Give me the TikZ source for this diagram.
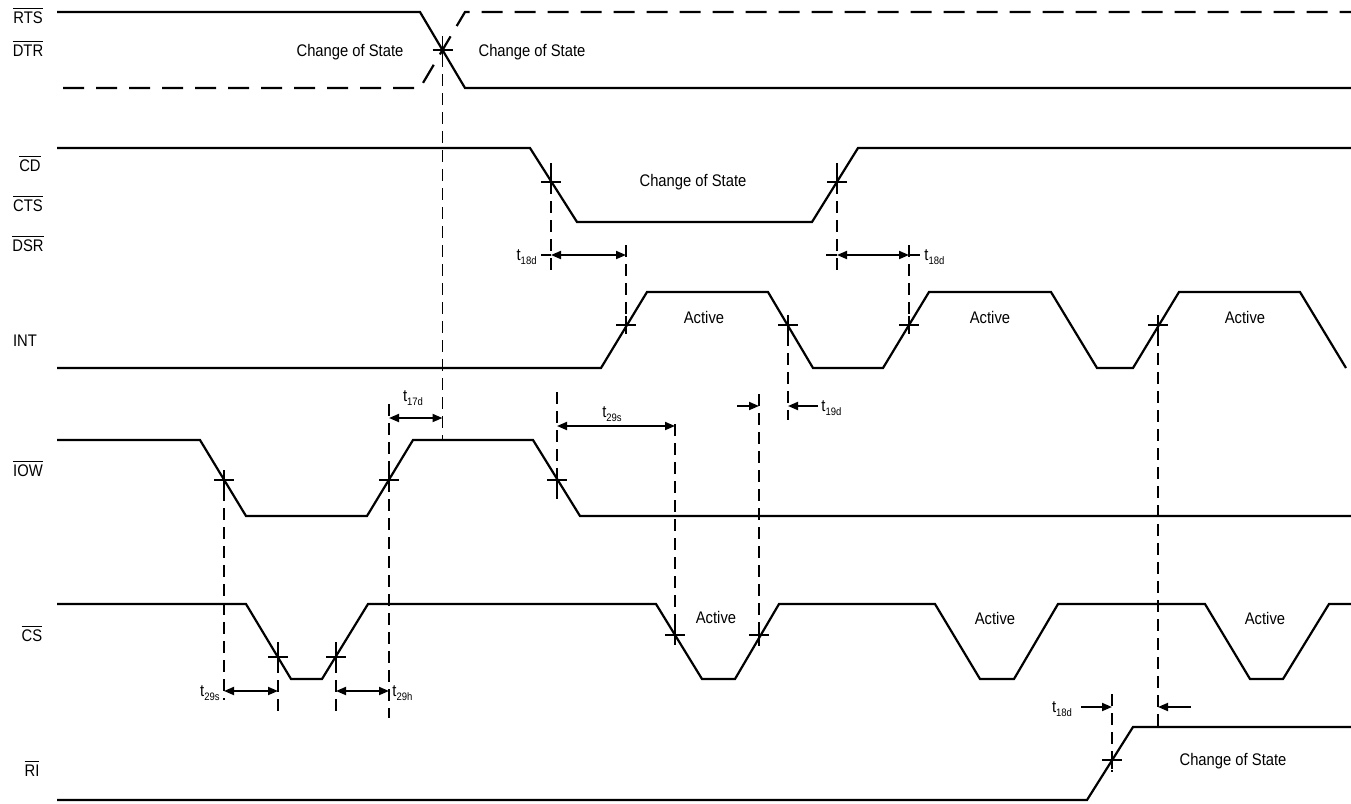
\documentclass[tikz,border=0pt]{standalone}
\usepackage{fontspec}
\setmainfont[FakeStretch=0.88]{Liberation Sans}
\usetikzlibrary{arrows.meta}
\newcommand\tlab[1]{t\raisebox{-0.55ex}{\fontsize{5.4}{6}\selectfont #1}}
\newcommand\ovl[1]{$\overline{\hbox{#1}}$}
\begin{document}
\begin{tikzpicture}[x=0.5pt,y=-0.5pt,
 sig/.style={line width=1.1pt, line join=miter},
 sigdash/.style={sig, dash pattern=on 10.5pt off 6pt},
 guide/.style={line width=0.8pt, dash pattern=on 6pt off 3.5pt},
 tickln/.style={line width=0.8pt},
 dimboth/.style={line width=0.9pt, {Triangle[length=5pt,width=4pt]}-{Triangle[length=5pt,width=4pt]}},
 dimone/.style={line width=0.9pt, -{Triangle[length=5pt,width=4pt]}},
 txt/.style={font=\fontsize{8.4}{10}\selectfont, inner sep=0pt, anchor=base},
 xmark/.pic={\draw[tickln] (-10,0)--(10,0) (0,-9)--(0,9);}
]
\useasboundingbox (0,0) rectangle (1351,804);

% ---- signal names
\node[txt] (nRTS) at (28,23) {\ovl{RTS}};
\node[txt] (nDTR) at (28,56) {\ovl{DTR}};
\node[txt] (nCD)  at (30,171) {\ovl{CD}};
\node[txt] (nCTS) at (28,211) {\ovl{CTS}};
\node[txt] (nDSR) at (28,251) {\ovl{DSR}};
\node[txt] (nINT) at (25,346) {INT};
\node[txt] (nIOW) at (28,476) {\ovl{IOW}};
\node[txt] (nCS)  at (32,641) {\ovl{CS}};
\node[txt] (nRI)  at (32,776) {\ovl{RI}};

% ---- waveforms
% RTS / DTR
\draw[sig] (57,12)--(420,12)--(465,88)--(1351,88);
\draw[sigdash] (63,88)--(420,88)--(465,12)--(1351,12);
% CD/CTS/DSR
\draw[sig] (57,148)--(530,148)--(577,222)--(812,222)--(858,148)--(1351,148);
% INT
\draw[sig] (57,368)--(601,368)--(647,292)--(768,292)--(813,368)--(883,368)--(929,292)
  --(1051,292)--(1097,368)--(1133,368)--(1179,292)--(1300,292)--(1346,368);
% IOW
\draw[sig] (57,440)--(200,440)--(246,516)--(367,516)--(413,440)--(533,440)--(580,516)--(1351,516);
% CS
\draw[sig] (57,604)--(246,604)--(291,679)--(322,679)--(368,604)--(656,604)--(702,679)--(735,679)
  --(779,604)--(935,604)--(980,679)--(1014,679)--(1058,604)--(1205,604)--(1250,679)--(1283,679)
  --(1329,604)--(1351,604);
% RI
\draw[sig] (57,800)--(1087,800)--(1133,727)--(1351,727);

% ---- crossing points
\coordinate (cX)   at (442.5,50);
\coordinate (cCD1) at (551,182);
\coordinate (cCD2) at (837,182);
\coordinate (cI1)  at (626,325);
\coordinate (cI2)  at (788,325);
\coordinate (cI3)  at (909,325);
\coordinate (cI4)  at (1158,325);
\coordinate (cW1)  at (224,480);
\coordinate (cW2)  at (389,480);
\coordinate (cW3)  at (557,480);
\coordinate (cS1)  at (278,657);
\coordinate (cS2)  at (336,657);
\coordinate (cS3)  at (675,635);
\coordinate (cS4)  at (759,635);
\coordinate (cR1)  at (1112,760);

\foreach \c in {cX,cCD1,cCD2,cI1,cI2,cI3,cI4,cW1,cW2,cW3,cS1,cS2,cS3,cS4,cR1}
  \pic at (\c) {xmark};

% ---- guide-line ends
\coordinate (gX0) at (442.5,36);   \coordinate (gX1) at (442.5,440);
\coordinate (gA0) at (551,163);    \coordinate (gA1) at (551,272);
\coordinate (gB0) at (837,163);    \coordinate (gB1) at (837,272);
\coordinate (gC0) at (626,245);    \coordinate (gC1) at (626,336);
\coordinate (gD0) at (909,245);    \coordinate (gD1) at (909,336);
\coordinate (gE0) at (788,315);    \coordinate (gE1) at (788,420);
\coordinate (gF0) at (1158,315);   \coordinate (gF1) at (1158,727);
\coordinate (gG0) at (389,404);    \coordinate (gG1) at (389,718);
\coordinate (gH0) at (224,470);    \coordinate (gH1) at (224,700);
\coordinate (gI0) at (278,642);    \coordinate (gI1) at (278,718);
\coordinate (gJ0) at (336,642);    \coordinate (gJ1) at (336,718);
\coordinate (gK0) at (557,392);    \coordinate (gK1) at (557,502);
\coordinate (gL0) at (675,424);    \coordinate (gL1) at (675,646);
\coordinate (gM0) at (759,394);    \coordinate (gM1) at (759,646);
\coordinate (gN0) at (1112,694);   \coordinate (gN1) at (1112,772);

\foreach \a/\b in {gX0/gX1,gA0/gA1,gB0/gB1,gC0/gC1,gD0/gD1,gE0/gE1,gF0/gF1,gG0/gG1,
                   gH0/gH1,gI0/gI1,gJ0/gJ1,gK0/gK1,gL0/gL1,gM0/gM1,gN0/gN1}
  \draw[guide] (\a)--(\b);

% ---- timing arrows
% t18d (1)
\coordinate (a1l) at (551,255); \coordinate (a1r) at (626,255); \coordinate (a1t) at (541,255);
\draw[tickln] (a1t)--(a1l);
\draw[dimboth] (a1l)--(a1r);
\node[txt, anchor=base east] (t1) at (537,260) {\tlab{18d}};
% t18d (2)
\coordinate (a2l) at (837,255); \coordinate (a2r) at (909,255);
\coordinate (a2t) at (826,255); \coordinate (a2u) at (920,255);
\draw[tickln] (a2t)--(a2l) (a2r)--(a2u);
\draw[dimboth] (a2l)--(a2r);
\node[txt, anchor=base west] (t2) at (924,260) {\tlab{18d}};
% t17d
\coordinate (a3l) at (389,418); \coordinate (a3r) at (442.5,418);
\draw[dimboth] (a3l)--(a3r);
\node[txt] (t3) at (413,401) {\tlab{17d}};
% t29s (upper)
\coordinate (a4l) at (557,426); \coordinate (a4r) at (675,426);
\draw[dimboth] (a4l)--(a4r);
\node[txt] (t4) at (612,417) {\tlab{29s}};
% t19d
\coordinate (a5s) at (737,406); \coordinate (a5e) at (759,406);
\coordinate (a6s) at (818,406); \coordinate (a6e) at (788,406);
\draw[dimone] (a5s)--(a5e);
\draw[dimone] (a6s)--(a6e);
\node[txt, anchor=base west] (t5) at (821,411) {\tlab{19d}};
% t29s (lower)
\coordinate (a7l) at (224,691); \coordinate (a7r) at (278,691);
\draw[dimboth] (a7l)--(a7r);
\node[txt, anchor=base east] (t6) at (220,696) {\tlab{29s}};
% t29h
\coordinate (a8l) at (336,691); \coordinate (a8r) at (389,691);
\draw[dimboth] (a8l)--(a8r);
\node[txt, anchor=base west] (t7) at (392,696) {\tlab{29h}};
% t18d (bottom)
\coordinate (a9s) at (1081,707); \coordinate (a9e) at (1112,707);
\coordinate (a0s) at (1191,707); \coordinate (a0e) at (1158,707);
\draw[dimone] (a9s)--(a9e);
\draw[dimone] (a0s)--(a0e);
\node[txt] (t8) at (1062,712) {\tlab{18d}};

% ---- state labels
\node[txt] (s1) at (350,56) {Change of State};
\node[txt] (s2) at (532,56) {Change of State};
\node[txt] (s3) at (693,186) {Change of State};
\node[txt] (s4) at (1233,765) {Change of State};
\node[txt] (v1) at (704,323) {Active};
\node[txt] (v2) at (990,323) {Active};
\node[txt] (v3) at (1245,323) {Active};
\node[txt] (v4) at (716,623) {Active};
\node[txt] (v5) at (995,624) {Active};
\node[txt] (v6) at (1265,624) {Active};
\end{tikzpicture}
\end{document}
